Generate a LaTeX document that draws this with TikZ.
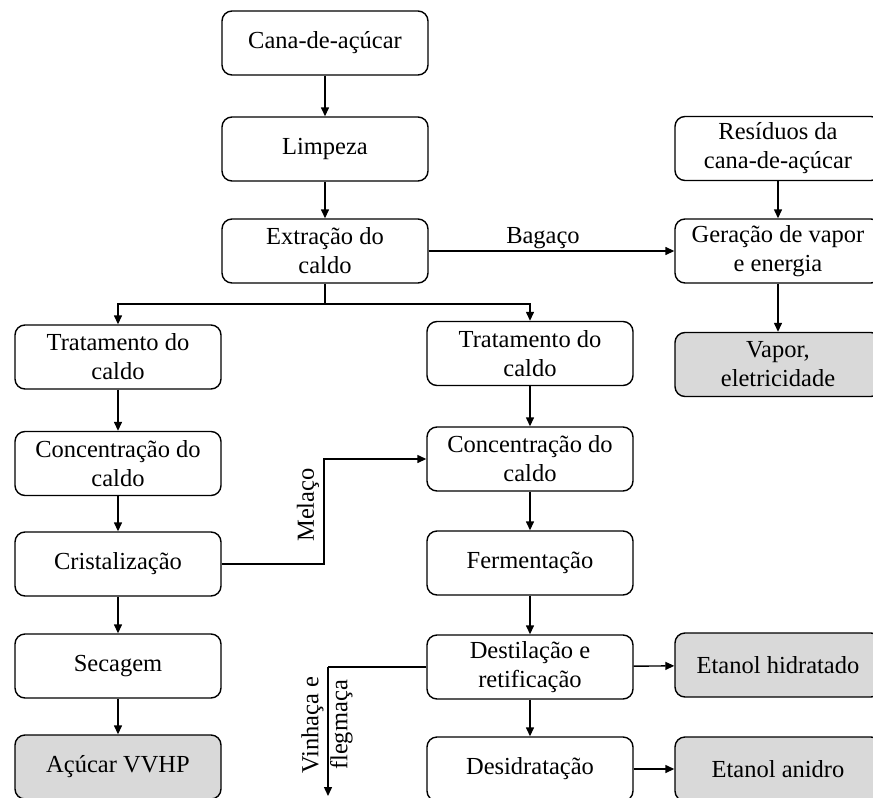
\documentclass[tikz,border=0pt]{standalone}
\usepackage{fontspec}
\setmainfont{Liberation Serif}
\usetikzlibrary{arrows.meta}

\begin{document}
\begin{tikzpicture}[
  x=1pt, y=-1pt,
  txt/.style={font=\fontsize{24.5}{29}\selectfont, align=center},
  proc/.style={txt, draw=black, line width=1.4pt, rounded corners=10pt,
    minimum width=206pt, minimum height=64pt, inner sep=2pt, fill=white},
  prod/.style={proc, fill=gray!30},
  arr/.style={line width=1.4pt, -{Triangle[length=9pt,width=8pt]}},
  ln/.style={line width=1.4pt}
]
\clip (0,0) rectangle (873,798);
\fill[white] (0,0) rectangle (873,798);

% central column
\node[proc] (cana)    at (325,43)  {Cana-de-açúcar};
\node[proc] (limpeza) at (325,149) {Limpeza};
\node[proc] (extr)    at (325,251) {Extração do\\caldo};

% sugar line
\node[proc] (trat1)  at (118,357)   {Tratamento do\\caldo};
\node[proc] (conc1)  at (118,463.5) {Concentração do\\caldo};
\node[proc] (crist)  at (118,564)   {Cristalização};
\node[proc] (secag)  at (118,666)   {Secagem};
\node[prod] (acucar) at (118,767)   {Açúcar VVHP};

% ethanol line
\node[proc] (trat2)  at (530,353.5) {Tratamento do\\caldo};
\node[proc] (conc2)  at (530,459)   {Concentração do\\caldo};
\node[proc] (ferm)   at (530,563)   {Fermentação};
\node[proc] (dest)   at (530,667)   {Destilação e\\retificação};
\node[proc] (desid)  at (530,769)   {Desidratação};
\node[prod] (etHid)  at (778,665)   {Etanol hidratado};
\node[prod] (etAn)   at (778,769)   {Etanol anidro};

% energy line
\node[proc] (resid)  at (778,148.5) {Resíduos da\\cana-de-açúcar};
\node[proc] (gerac)  at (778,251)   {Geração de vapor\\e energia};
\node[prod] (vapor)  at (778,364.5) {Vapor,\\eletricidade};

% helper points
\coordinate (split) at (325,304);
\coordinate (melTurn) at (324,564);
\coordinate (vinTurn) at (328,667);
\coordinate (vinEnd)  at (328,796);

% main flow
\draw[arr] (cana) -- (limpeza);
\draw[arr] (limpeza) -- (extr);
\draw[ln]  (extr.south) -- (split);
\draw[arr] (split) -| (trat1.north);
\draw[arr] (split) -| (trat2.north);

\draw[arr] (trat1) -- (conc1);
\draw[arr] (conc1) -- (crist);
\draw[arr] (crist) -- (secag);
\draw[arr] (secag) -- (acucar);

\draw[arr] (trat2) -- (conc2);
\draw[arr] (conc2) -- (ferm);
\draw[arr] (ferm) -- (dest);
\draw[arr] (dest) -- (desid);
\draw[arr] (dest) -- (etHid);
\draw[arr] (desid) -- (etAn);

\draw[arr] (resid) -- (gerac);
\draw[arr] (gerac) -- (vapor);

% side streams
\draw[arr] (extr.east) -- (gerac.west);
\node[txt, anchor=base] (bagaco) at (543,243) {Bagaço};

\draw[arr] (crist.east) -- (melTurn) |- (conc2.west);
\node[txt, rotate=90] (melaco) at (308,505) {Melaço};

\draw[ln]  (dest.west) -- (vinTurn);
\draw[arr] (vinTurn) -- (vinEnd);
\node[txt, rotate=90] (vinhaca) at (327,725) {Vinhaça e\\flegmaça};
\end{tikzpicture}
\end{document}
